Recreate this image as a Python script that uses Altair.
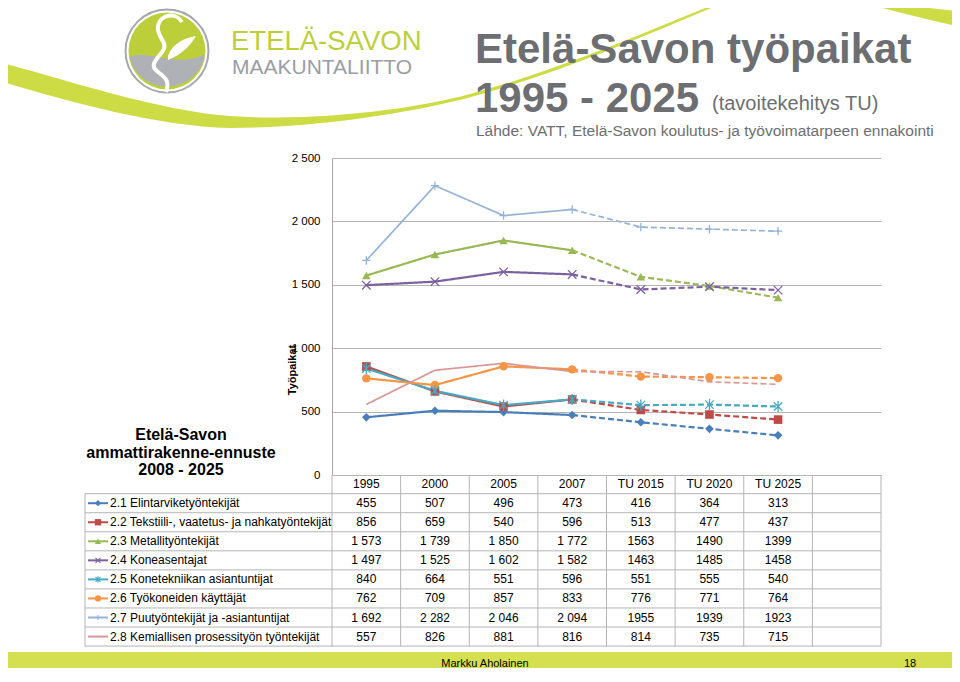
import altair as alt
import pandas as pd

# ---------------- data ----------------
categories = ["1995", "2000", "2005", "2007", "TU 2015", "TU 2020", "TU 2025"]
series = [
    "2.1 Elintarviketyöntekijät",
    "2.2 Tekstiili-, vaatetus- ja nahkatyöntekijät",
    "2.3 Metallityöntekijät",
    "2.4 Koneasentajat",
    "2.5 Konetekniikan asiantuntijat",
    "2.6 Työkoneiden käyttäjät",
    "2.7 Puutyöntekijät ja -asiantuntijat",
    "2.8 Kemiallisen prosessityön työntekijät",
]
v21 = [455, 507, 496, 473, 416, 364, 313]
v22 = [856, 659, 540, 596, 513, 477, 437]
v23 = [1573, 1739, 1850, 1772, 1563, 1490, 1399]
v24 = [1497, 1525, 1602, 1582, 1463, 1485, 1458]
v25 = [840, 664, 551, 596, 551, 555, 540]
v26 = [762, 709, 857, 833, 776, 771, 764]
v27 = [1692, 2282, 2046, 2094, 1955, 1939, 1923]
v28 = [557, 826, 881, 816, 814, 735, 715]
values = [v21, v22, v23, v24, v25, v26, v27, v28]
y_ticks = [0, 500, 1000, 1500, 2000, 2500]

colors = ["#4A7EBB", "#BE4B48", "#98B954", "#7D60A0", "#46AAC5", "#F69546", "#94B3D6", "#D99694"]
X_PATH = "M-1,-1L1,1M-1,1L1,-1"
STAR_PATH = "M-1,-1L1,1M-1,1L1,-1M0,-1.3L0,1.3"
PLUS_PATH = "M-1,0L1,0M0,-1L0,1"
shapes = ["diamond", "square", "triangle-up", X_PATH, STAR_PATH, "circle", PLUS_PATH, "circle"]
sizes = [75, 70, 80, 40, 40, 95, 42, 10]
filled = [True, True, True, False, False, True, False, None]

# ---------------- layout helpers (screen px -> plot px) ----------------
PL, PT = 332, 158
PW, PH = 549, 317


def X(px):
    return px - PL


def Y(py):
    return py - PT


one = pd.DataFrame({"k": [0]})

# ---------------- frames ----------------
line_rows, mark_rows, cell_rows = [], [], []
for s_i, (name, vals) in enumerate(zip(series, values)):
    for i, v in enumerate(vals):
        if i <= 3:
            line_rows.append(dict(series=name, x=i + 0.5, value=v, seg="toteutunut"))
        if i >= 3:
            line_rows.append(dict(series=name, x=i + 0.5, value=v, seg="ennuste"))
        mark_rows.append(dict(series=name, x=i + 0.5, value=v, kind=filled[s_i]))
        txt = f"{v:,}".replace(",", " ") if i < 4 else str(v)
        cell_rows.append(dict(row=s_i, x=i + 0.5, text=txt))
df_line = pd.DataFrame(line_rows)
df_mark = pd.DataFrame(mark_rows)
df_cells = pd.DataFrame(cell_rows)
df_rows = pd.DataFrame({"row": list(range(len(series))), "series": series,
                        "kind": filled})
df_head = pd.DataFrame({"x": [i + 0.5 for i in range(len(categories))], "cat": categories})
df_vlines = pd.DataFrame({"k": list(range(9))})
df_hlines = pd.DataFrame({"b": [i - 0.5 for i in range(9)]})

xs = alt.Scale(domain=[0, 8], nice=False, zero=False)
ys = alt.Scale(domain=[0, 2500], nice=False)
rs = alt.Scale(domain=[0, 7], range=[Y(503.2), Y(503.2 + 7 * 19.05)], nice=False, zero=False)
cs = alt.Scale(domain=series, range=colors)
ss = alt.Scale(domain=series, range=shapes)
zs = alt.Scale(domain=series, range=sizes)
GRID = "#b4b4b4"
FONT = "Liberation Sans"
TFS = 12

yaxis = alt.Axis(values=y_ticks, grid=True, gridColor=GRID, gridWidth=1, domain=True,
                 domainColor="#a6a6a6", ticks=False,
                 labelExpr="replace(format(datum.value, ','), ',', ' ')",
                 labelFont=FONT, labelFontSize=11.5, labelColor="#000", labelPadding=12,
                 title=None)

layers = []

# ---- decorations: swoosh ----
SWOOSH = ("M-10,60 C50,74 150,110 230,116 C320,122 420,108 470,94 C560,70 650,30 735,-4 "
          "L736.5,-2.5 C652,32.5 563,72.5 471,97 C420,111 320,128 230,128 C150,126 50,96 -10,78 Z")
SWOOSH2 = "M835,-4 C880,2 925,8 975,13 L975,30 C925,20 885,8 835,-4 Z"
for p in (SWOOSH, SWOOSH2):
    layers.append(alt.Chart(one).mark_point(shape=p, size=4, filled=True, fill="#cddc45",
                                            strokeWidth=0, opacity=1)
                  .encode(x=alt.value(X(0)), y=alt.value(Y(0))))

# ---- logo ----
layers.append(alt.Chart(one).mark_point(shape="circle", size=83 ** 2, filled=False, stroke="#a4a8ac",
                                        strokeWidth=2, opacity=1)
              .encode(x=alt.value(X(167)), y=alt.value(Y(51))))
layers.append(alt.Chart(one).mark_point(shape="circle", size=77 ** 2, filled=True, fill="#bccf3a",
                                        strokeWidth=0, opacity=1)
              .encode(x=alt.value(X(167)), y=alt.value(Y(51))))
GRAY_SEG = "M129.5,57 C150,49 176,69 205,54 A38.5,38.5 0 0 1 129.5,57 Z"
layers.append(alt.Chart(one).mark_point(shape=GRAY_SEG, size=4, filled=True, fill="#aeb2b6",
                                        strokeWidth=0, opacity=1)
              .encode(x=alt.value(X(0)), y=alt.value(Y(0))))
S_PATH = "M182,22 C176,12 160,14 158,26 C156,38 170,42 162,52 C154,62 150,66 158,72 C166,78 170,82 166,92"
LEAF = "M168,56 C172,44 184,38 196,36 C190,46 182,54 168,60 Z"
layers.append(alt.Chart(one).mark_point(shape=S_PATH, size=4, filled=False, stroke="#ffffff",
                                        strokeWidth=4, opacity=1)
              .encode(x=alt.value(X(0)), y=alt.value(Y(0))))
layers.append(alt.Chart(one).mark_point(shape=LEAF, size=4, filled=True, fill="#ffffff",
                                        strokeWidth=0, opacity=1)
              .encode(x=alt.value(X(0)), y=alt.value(Y(0))))


def text(t, x, y, size, color="#000", weight="normal", align="left", baseline="alphabetic",
         font=FONT, angle=None):
    kw = dict(text=t, fontSize=size, color=color, fontWeight=weight, align=align,
              baseline=baseline, font=font)
    if angle is not None:
        kw["angle"] = angle
    return alt.Chart(one).mark_text(**kw).encode(x=alt.value(X(x)), y=alt.value(Y(y)))


layers.append(text("ETELÄ-SAVON", 231, 50, 27.5, color="#bccf3a"))
layers.append(text("MAAKUNTALIITTO", 232, 74, 21, color="#9a9ea2"))

# ---- titles ----
TG = "#6d6e71"
layers.append(text("Etelä-Savon työpaikat", 475, 63, 42, color=TG, weight="bold"))
layers.append(text("1995 - 2025", 475, 112, 42, color=TG, weight="bold"))
layers.append(text("(tavoitekehitys TU)", 712, 110, 20, color=TG))
layers.append(text("Lähde: VATT, Etelä-Savon koulutus- ja työvoimatarpeen ennakointi", 476, 136, 15.5, color=TG))

# ---- block title and axis title ----
layers.append(text("Etelä-Savon", 181, 440, 16, weight="bold", align="center"))
layers.append(text("ammattirakenne-ennuste", 181, 458, 16, weight="bold", align="center"))
layers.append(text("2008 - 2025", 181, 475, 16, weight="bold", align="center"))
layers.append(text("Työpaikat", 293, 370, 11, weight="bold", align="center", baseline="middle", angle=270))

# ---- footer ----
layers.append(alt.Chart(one).mark_rect(color="#d5e050")
              .encode(x=alt.value(X(0)), x2=alt.value(X(960)), y=alt.value(Y(652)), y2=alt.value(Y(677))))
layers.append(text("Markku Aholainen", 485, 664, 11, align="center", baseline="middle",
                   font="Liberation Sans Narrow, Liberation Sans"))
layers.append(text("18", 910, 664, 11, align="center", baseline="middle",
                   font="Liberation Sans Narrow, Liberation Sans"))

# ---- table grid ----
layers.append(alt.Chart(df_vlines).mark_rule(color=GRID, strokeWidth=1)
              .encode(x=alt.X("k:Q", scale=xs, axis=None), y=alt.value(Y(475)), y2=alt.value(Y(646.5))))
layers.append(alt.Chart(df_hlines).mark_rule(color=GRID, strokeWidth=1)
              .encode(y=alt.Y("b:Q", scale=rs, axis=None), x=alt.value(X(85)), x2=alt.value(PW)))
layers.append(alt.Chart(one).mark_rule(color=GRID, strokeWidth=1)
              .encode(x=alt.value(X(85)), y=alt.value(Y(493.6)), y2=alt.value(Y(646.5))))

# ---- chart lines ----
line_enc = dict(
    x=alt.X("x:Q", scale=xs, axis=None),
    color=alt.Color("series:N", scale=cs, legend=None),
    strokeDash=alt.StrokeDash("seg:N", scale=alt.Scale(domain=["toteutunut", "ennuste"],
                                                        range=[[1, 0], [6, 3]]), legend=None),
    detail="series:N",
)
thick = df_line[df_line["series"].isin(series[:6])]
thin = df_line[df_line["series"].isin(series[6:])]
layers.append(alt.Chart(thick).mark_line(strokeWidth=2.2)
              .encode(y=alt.Y("value:Q", scale=ys, axis=yaxis), **line_enc))
layers.append(alt.Chart(thin).mark_line(strokeWidth=1.7)
              .encode(y=alt.Y("value:Q", scale=ys, axis=None), **line_enc))

# ---- chart markers ----
mk_f = df_mark[df_mark["kind"] == True]
mk_s = df_mark[df_mark["kind"] == False]
layers.append(alt.Chart(mk_f).mark_point(filled=True, opacity=1, strokeWidth=0)
              .encode(x=alt.X("x:Q", scale=xs, axis=None), y=alt.Y("value:Q", scale=ys, axis=None),
                      color=alt.Color("series:N", scale=cs, legend=None),
                      shape=alt.Shape("series:N", scale=ss, legend=None),
                      size=alt.Size("series:N", scale=zs, legend=None)))
layers.append(alt.Chart(mk_s).mark_point(filled=False, opacity=1, strokeWidth=1.3)
              .encode(x=alt.X("x:Q", scale=xs, axis=None), y=alt.Y("value:Q", scale=ys, axis=None),
                      color=alt.Color("series:N", scale=cs, legend=None),
                      shape=alt.Shape("series:N", scale=ss, legend=None),
                      size=alt.Size("series:N", scale=zs, legend=None)))

# ---- table texts ----
layers.append(alt.Chart(df_head).mark_text(font=FONT, fontSize=TFS, color="#000", baseline="middle")
              .encode(x=alt.X("x:Q", scale=xs, axis=None), y=alt.value(Y(484)), text="cat:N"))
layers.append(alt.Chart(df_cells).mark_text(font=FONT, fontSize=TFS, color="#000", baseline="middle")
              .encode(x=alt.X("x:Q", scale=xs, axis=None), y=alt.Y("row:Q", scale=rs, axis=None),
                      text="text:N"))
layers.append(alt.Chart(df_rows).mark_text(font=FONT, fontSize=TFS, color="#000", baseline="middle",
                                           align="left")
              .encode(x=alt.value(X(110)), y=alt.Y("row:Q", scale=rs, axis=None), text="series:N"))
layers.append(alt.Chart(df_rows).mark_rule(strokeWidth=2)
              .encode(x=alt.value(X(88)), x2=alt.value(X(108)), y=alt.Y("row:Q", scale=rs, axis=None),
                      color=alt.Color("series:N", scale=cs, legend=None)))
lg_f = df_rows[df_rows["kind"] == True]
lg_s = df_rows[df_rows["kind"] == False]
layers.append(alt.Chart(lg_f).mark_point(filled=True, opacity=1, strokeWidth=0, size=40)
              .encode(x=alt.value(X(98)), y=alt.Y("row:Q", scale=rs, axis=None),
                      color=alt.Color("series:N", scale=cs, legend=None),
                      shape=alt.Shape("series:N", scale=ss, legend=None)))
layers.append(alt.Chart(lg_s).mark_point(filled=False, opacity=1, strokeWidth=1.1, size=25)
              .encode(x=alt.value(X(98)), y=alt.Y("row:Q", scale=rs, axis=None),
                      color=alt.Color("series:N", scale=cs, legend=None),
                      shape=alt.Shape("series:N", scale=ss, legend=None)))

chart = (
    alt.layer(*layers)
    .resolve_scale(y="independent")
    .properties(width=PW, height=PH,
                padding={"left": PL - 8, "top": PT - 8, "right": 952 - (PL + PW), "bottom": 668 - (PT + PH)},
                autosize=alt.AutoSizeParams(type="none"),
                background="white")
    .configure_view(stroke=None)
)

chart.save("out.html", embed_options={"renderer": "svg", "actions": False})
